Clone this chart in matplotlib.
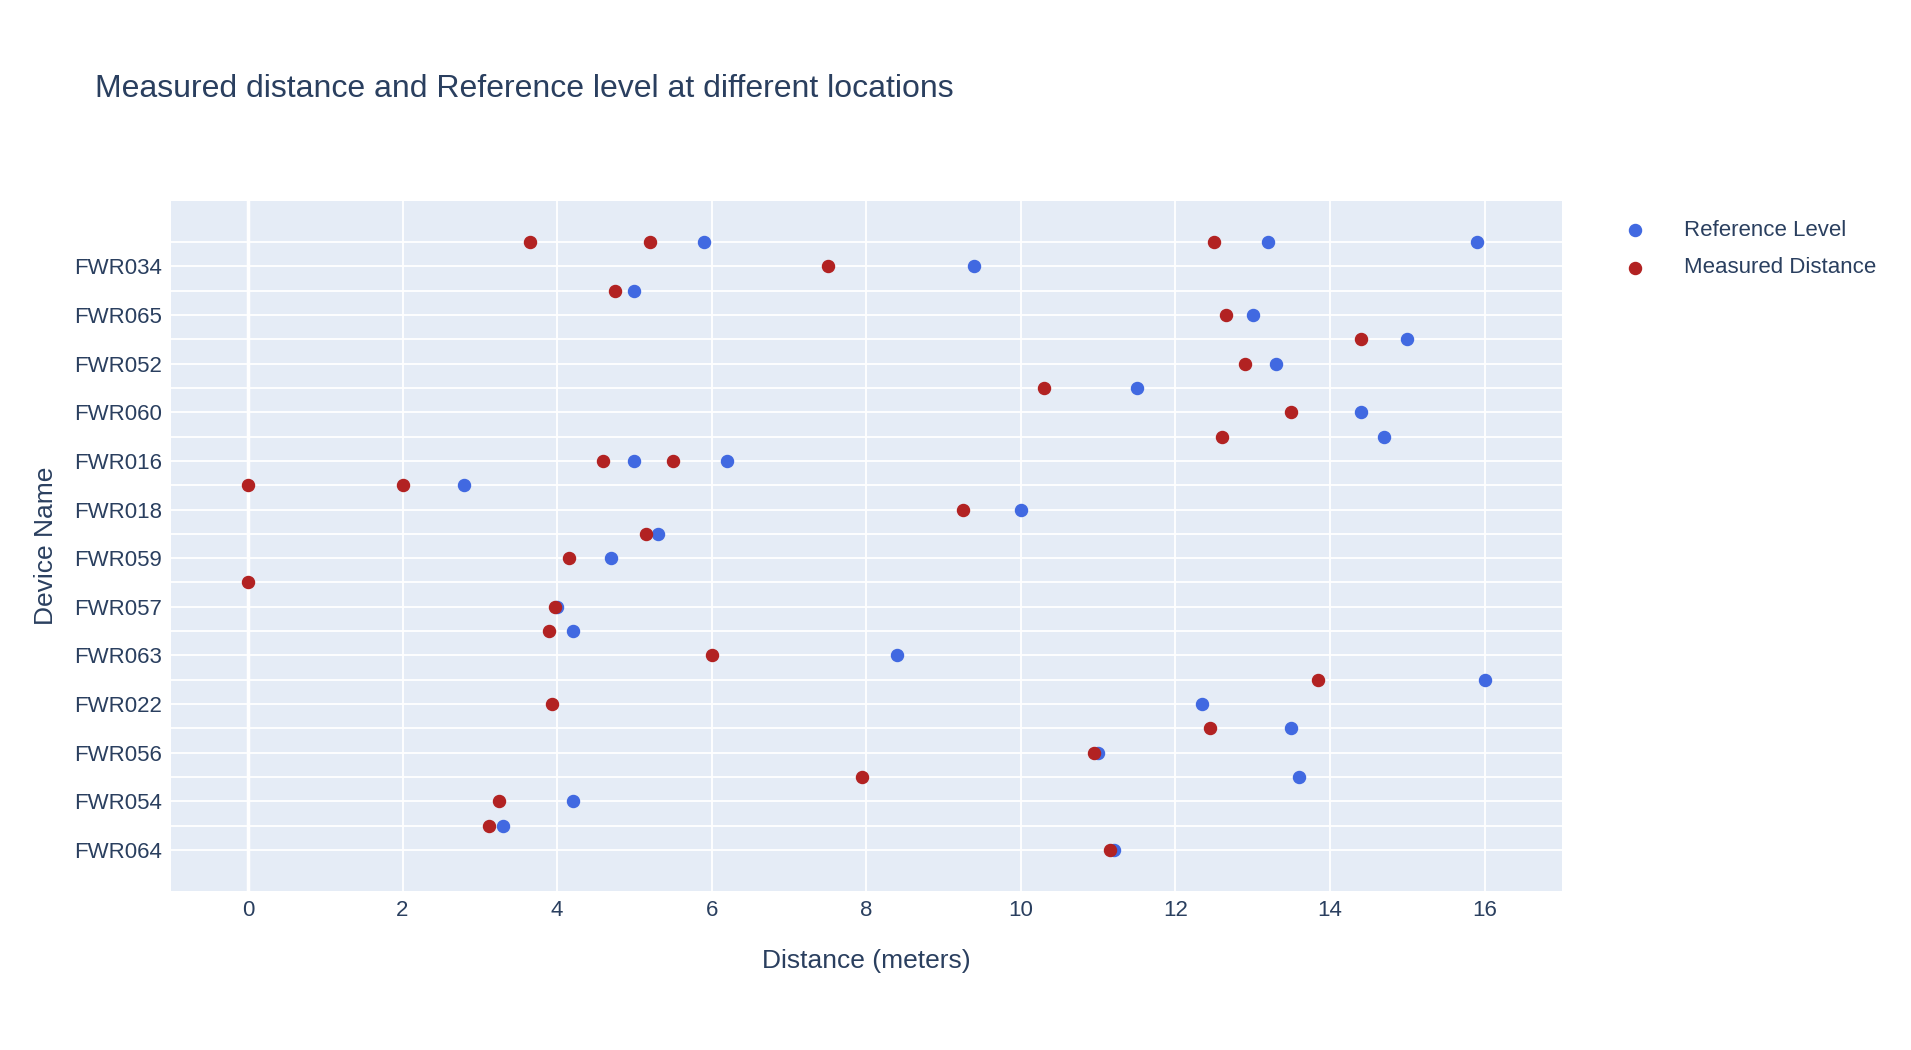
import numpy as np
import matplotlib.pyplot as plt

plt.rcParams['font.family'] = ['Liberation Sans', 'DejaVu Sans']

# device rows from bottom to top; odd rows are not labelled on the axis in the reference
devices = ["FWR064", "FWR061", "FWR054", "FWR053", "FWR056", "FWR055", "FWR022", "FWR021",
           "FWR063", "FWR062", "FWR057", "FWR058", "FWR059", "FWR017", "FWR018", "FWR019",
           "FWR016", "FWR015", "FWR060", "FWR051", "FWR052", "FWR066", "FWR065", "FWR033",
           "FWR034", "FWR035"]

ref_dev = ["FWR064", "FWR061", "FWR054", "FWR053", "FWR056", "FWR055", "FWR022", "FWR021",
           "FWR063", "FWR062", "FWR057", "FWR059", "FWR017", "FWR018", "FWR019",
           "FWR016", "FWR016", "FWR015", "FWR060", "FWR051", "FWR052", "FWR066", "FWR065",
           "FWR033", "FWR034", "FWR035", "FWR035", "FWR035"]
ref_val = [11.2, 3.3, 4.2, 13.6, 11.0, 13.5, 12.35, 16.0,
           8.4, 4.2, 4.0, 4.7, 5.3, 10.0, 2.8,
           5.0, 6.2, 14.7, 14.4, 11.5, 13.3, 15.0, 13.0,
           5.0, 9.4, 5.9, 13.2, 15.9]

meas_dev = ["FWR064", "FWR061", "FWR054", "FWR053", "FWR056", "FWR055", "FWR022", "FWR021",
            "FWR063", "FWR062", "FWR057", "FWR058", "FWR059", "FWR017", "FWR018", "FWR019",
            "FWR019", "FWR016", "FWR016", "FWR015", "FWR060", "FWR051", "FWR052", "FWR066",
            "FWR065", "FWR033", "FWR034", "FWR035", "FWR035", "FWR035"]
meas_val = [11.15, 3.12, 3.25, 7.95, 10.95, 12.45, 3.93, 13.85,
            6.0, 3.9, 3.97, 0.0, 4.15, 5.15, 9.25, 0.0,
            2.0, 4.6, 5.5, 12.6, 13.5, 10.3, 12.9, 14.4,
            12.65, 4.75, 7.5, 3.65, 5.2, 12.5]

idx = {d: i for i, d in enumerate(devices)}

fig = plt.figure(figsize=(19.11, 10.5), dpi=100)
ax = fig.add_axes([0.0893, 0.151, 0.728, 0.658])
ax.set_facecolor("#E5ECF6")
for s in ax.spines.values():
    s.set_visible(False)

ax.scatter(ref_val, [idx[d] for d in ref_dev], s=75, color="#4169E1", label="Reference Level", zorder=3)
ax.scatter(meas_val, [idx[d] for d in meas_dev], s=75, color="#B22222", label="Measured Distance", zorder=4)

ax.set_xlim(-1, 17)
ax.set_ylim(-1.7, len(devices) - 1 + 1.7)
ax.set_xticks(np.arange(0, 17, 2))
ax.set_yticks(range(0, len(devices), 2))
ax.set_yticklabels(devices[::2])
ax.set_yticks(range(len(devices)), minor=True)
ax.grid(True, which="both", color="white", linewidth=1.3, zorder=0)
ax.axvline(0, color="white", linewidth=2.5, zorder=1)
ax.set_axisbelow(True)
ax.tick_params(which="both", length=0, labelsize=16, colors="#2a3f5f", pad=6)

ax.set_xlabel("Distance (meters)", fontsize=19, color="#2a3f5f", labelpad=20)
ax.set_ylabel("Device Name", fontsize=19, color="#2a3f5f", labelpad=12)
fig.text(0.0497, 0.915, "Measured distance and Reference level at different locations",
         fontsize=23, color="#2a3f5f", va="center")

ax.legend(loc="upper left", bbox_to_anchor=(1.03, 0.985), frameon=False, fontsize=16,
          labelcolor="#2a3f5f", handletextpad=1.2, labelspacing=0.75, borderaxespad=0)

fig.savefig("out.png", dpi=100)
